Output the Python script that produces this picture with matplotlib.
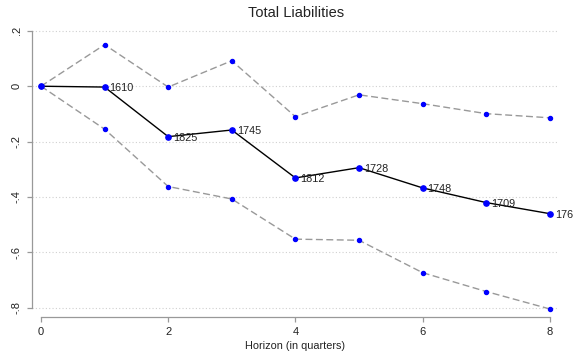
import matplotlib
import matplotlib.pyplot as plt

matplotlib.use("Agg")
plt.rcParams["font.family"] = ["Liberation Sans", "DejaVu Sans"]

horizon = [0, 1, 2, 3, 4, 5, 6, 7, 8]
estimate = [0.0, -0.003, -0.182, -0.158, -0.331, -0.294, -0.367, -0.420, -0.460]
upper = [0.0, 0.150, -0.003, 0.092, -0.110, -0.031, -0.063, -0.099, -0.114]
lower = [0.0, -0.155, -0.362, -0.407, -0.552, -0.556, -0.673, -0.741, -0.804]
obs_labels = ["", "1610", "1825", "1745", "1812", "1728", "1748", "1709", "176"]
y_ticks = [0.2, 0.0, -0.2, -0.4, -0.6, -0.8]
y_ticklabels = [".2", "0", "-.2", "-.4", "-.6", "-.8"]
x_ticks = [0, 2, 4, 6, 8]

W, H = 582, 358
fig = plt.figure(figsize=(W / 100, H / 100), dpi=100)
# axes box in pixels: left 32, right 558, top 25, bottom 317
ax = fig.add_axes([32 / W, 1 - 317 / H, (558 - 32) / W, (317 - 25) / H])
ax.set_xlim(-0.1415, 8.129)
ax.set_ylim(-0.833, 0.221)

for yv in y_ticks:
    ax.plot([-0.1415, 8.129], [yv, yv], color="#d0d0d0", linestyle=(0, (1, 2)),
            linewidth=0.8, zorder=0)

for band in (upper, lower):
    ax.plot(horizon, band, color="#999999", linestyle=(0, (5, 2.5)), linewidth=1.0,
            marker="o", markersize=2.9, markerfacecolor="#0000ff",
            markeredgecolor="#0000ff", zorder=2)
ax.plot(horizon, estimate, color="black", linewidth=1.0,
        marker="o", markersize=3.8, markerfacecolor="#0000ff",
        markeredgecolor="#0000ff", zorder=3)

for xv, yv, lab in zip(horizon, estimate, obs_labels):
    if lab:
        ax.annotate(lab, (xv, yv), xytext=(3.6, -0.7), textcoords="offset points",
                    ha="left", va="center", fontsize=7.8, color="#222222")

for side in ["top", "right"]:
    ax.spines[side].set_visible(False)
ax.spines["left"].set_bounds(-0.8, 0.2)
ax.spines["bottom"].set_bounds(0, 8)
for side in ["left", "bottom"]:
    ax.spines[side].set_color("#999999")
    ax.spines[side].set_linewidth(0.9)

ax.set_yticks(y_ticks)
ax.set_yticklabels(y_ticklabels, rotation=90, va="center")
ax.set_xticks(x_ticks)
ax.tick_params(axis="both", colors="#999999", length=3.8, width=0.9,
               labelsize=8, labelcolor="#222222")

ax.set_xlabel("Horizon (in quarters)", fontsize=7.8, color="#222222", labelpad=3)
fig.text(296 / W, 1 - 13 / H, "Total Liabilities", ha="center", va="center",
         fontsize=10.5, color="#222222")

fig.savefig("out.png", dpi=100)
plt.close(fig)
